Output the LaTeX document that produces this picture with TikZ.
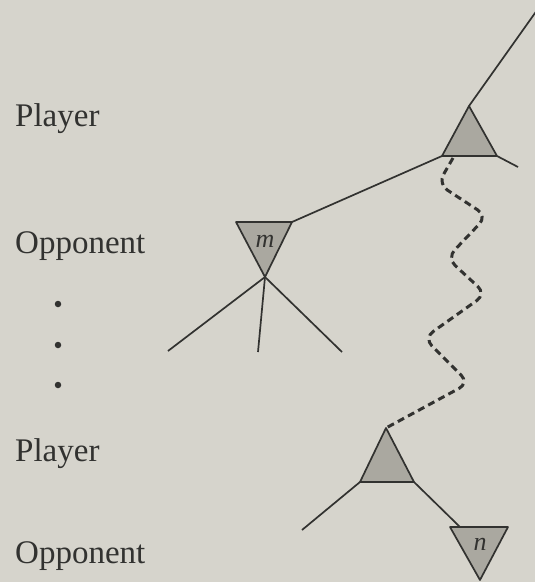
\documentclass[tikz,border=0pt]{standalone}
\usepackage{fontspec}
\setmainfont{Liberation Serif}
\definecolor{paper}{RGB}{214,212,204}
\definecolor{ink}{RGB}{50,50,48}
\definecolor{shade}{RGB}{170,168,160}
\tikzset{
  edge/.style={draw=ink, line width=1.7pt},
  tri/.style={draw=ink, line width=1.7pt, fill=shade, line join=round},
  wavy/.style={draw=ink, line width=3pt, dash pattern=on 7pt off 4.5pt, rounded corners=11pt},
  lbl/.style={anchor=base west, inner sep=0pt, text=ink, font=\fontsize{33}{36}\selectfont},
  var/.style={inner sep=0pt, text=ink, font=\fontsize{26}{28}\selectfont\itshape},
  dot/.style={circle, fill=ink, inner sep=0pt, minimum size=6.5pt}
}
\begin{document}
\begin{tikzpicture}[x=1pt, y=-1pt]
  \useasboundingbox (0,0) rectangle (535,582);
  \fill[paper] (0,0) rectangle (535,582);

  % row labels
  \node[lbl] (lp1) at (15,126) {Player};
  \node[lbl] (lo1) at (15,253) {Opponent};
  \node[dot] (d1) at (58,304) {};
  \node[dot] (d2) at (58,345) {};
  \node[dot] (d3) at (58,385) {};
  \node[lbl] (lp2) at (15,461) {Player};
  \node[lbl] (lo2) at (15,563) {Opponent};

  % corners of the four triangles
  \coordinate (ta) at (469,106); \coordinate (tl) at (442,156); \coordinate (tr) at (497,156);
  \coordinate (ml) at (236,222); \coordinate (mr) at (292,222); \coordinate (ma) at (265,277);
  \coordinate (ba) at (386,428); \coordinate (bl) at (360,482); \coordinate (br) at (414,482);
  \coordinate (nl) at (450,527); \coordinate (nr) at (508,527); \coordinate (na) at (480,580);

  % free ends of the branches
  \coordinate (up)  at (540,6);
  \coordinate (tr1) at (518,167);
  \coordinate (m1)  at (168,351);
  \coordinate (m2)  at (258,352);
  \coordinate (m3)  at (342,352);
  \coordinate (b1)  at (302,530);
  \coordinate (nt)  at (460,527);

  % branches
  \draw[edge] (ta) -- (up);
  \draw[edge] (tr) -- (tr1);
  \draw[edge] (tl) -- (mr);
  \draw[edge] (ma) -- (m1);
  \draw[edge] (ma) -- (m2);
  \draw[edge] (ma) -- (m3);
  \draw[edge] (bl) -- (b1);
  \draw[edge] (br) -- (nt);

  % triangles
  \filldraw[tri] (ta) -- (tl) -- (tr) -- cycle;
  \filldraw[tri] (ml) -- (mr) -- (ma) -- cycle;
  \filldraw[tri] (ba) -- (bl) -- (br) -- cycle;
  \filldraw[tri] (nl) -- (nr) -- (na) -- cycle;

  \node[var, anchor=base] (mlab) at (265,247) {m};
  \node[var, anchor=base] (nlab) at (480,550) {n};

  % long path of play between the two player nodes
  \coordinate (ws) at (453,158);
  \draw[wavy] (ws) -- (438,184) -- (487,216) -- (447,258) -- (486,294)
              -- (424,338) -- (469,383) -- (ba);
\end{tikzpicture}
\end{document}
